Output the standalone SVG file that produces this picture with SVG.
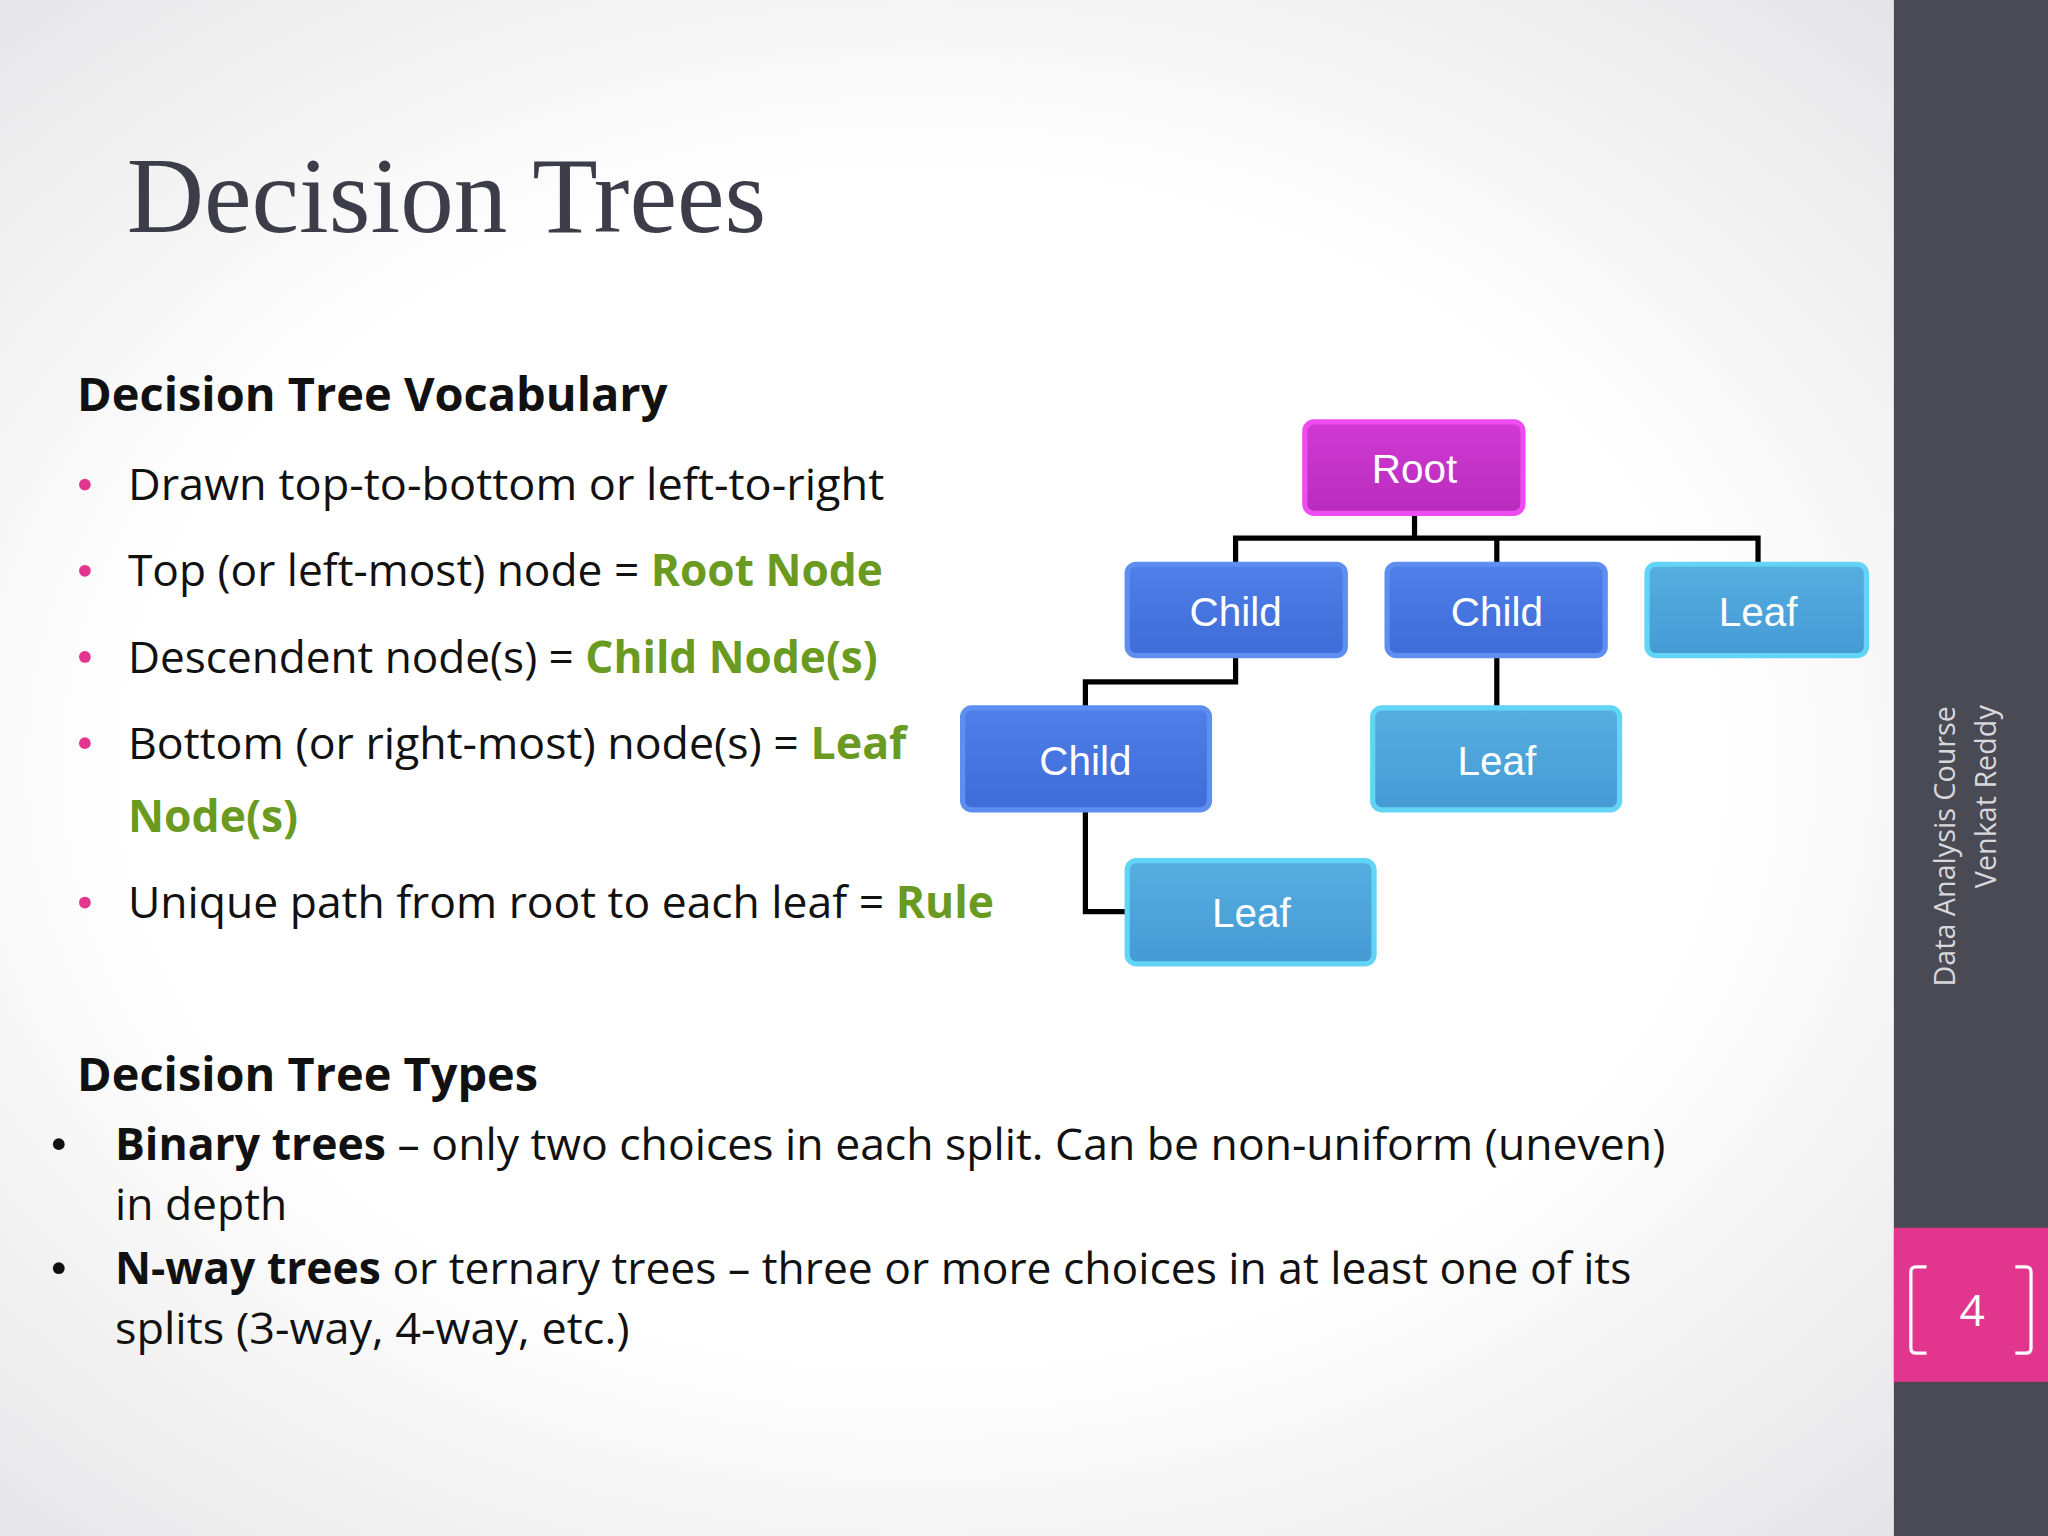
<svg xmlns="http://www.w3.org/2000/svg" width="2048" height="1536" viewBox="0 0 2048 1536">
<defs>
<radialGradient id="bg" cx="0.45" cy="0.5" r="0.7">
<stop offset="0.55" stop-color="#ffffff"/><stop offset="1" stop-color="#e4e4e6"/>
</radialGradient>
<linearGradient id="gMag" x1="0" y1="0" x2="0" y2="1"><stop offset="0" stop-color="#d13ad4"/><stop offset="1" stop-color="#b82cbc"/></linearGradient>
<linearGradient id="gChild" x1="0" y1="0" x2="0" y2="1"><stop offset="0" stop-color="#4f7fe8"/><stop offset="1" stop-color="#3f6cd8"/></linearGradient>
<linearGradient id="gLeaf" x1="0" y1="0" x2="0" y2="1"><stop offset="0" stop-color="#56aee0"/><stop offset="1" stop-color="#459ad4"/></linearGradient>
</defs>
<style>
.body{font-family:"Open Sans","Liberation Sans",sans-serif;font-size:34px;fill:#111}
.hd{font-family:"Open Sans","Liberation Sans",sans-serif;font-size:36px;font-weight:bold;fill:#111}
.g{fill:#6a9a1f;font-weight:bold}
.b{font-weight:bold}
.nt{font-family:"Liberation Sans",Arial,sans-serif;font-size:31px;fill:#fff;text-anchor:middle}
.root{fill:url(#gMag);stroke:#ee4cf0;stroke-width:4}
.child{fill:url(#gChild);stroke:#5d8ef0;stroke-width:4}
.leaf{fill:url(#gLeaf);stroke:#62d4f6;stroke-width:4}
.con{fill:none;stroke:#000;stroke-width:4}
</style>
<rect width="2048" height="1536" fill="url(#bg)"/>
<g transform="scale(1.30612)">
<rect x="1450" y="0" width="118" height="1176" fill="#4a4a55"/>
<rect x="1450" y="940" width="118" height="118" fill="#e2358d"/>
<path d="M1475 970 h-8 q-4 0 -4 4 v58 q0 4 4 4 h8 M1543 970 h8 q4 0 4 4 v58 q0 4 -4 4 h-8" fill="none" stroke="#fff" stroke-width="2.5"/>
<text x="1510" y="1015" font-family="Open Sans,Liberation Sans,sans-serif" font-size="34" fill="#fff" text-anchor="middle">4</text>
<text transform="translate(1497,648) rotate(-90)" font-family="Open Sans,Liberation Sans,sans-serif" font-size="22" fill="#d8d8dc" text-anchor="middle">Data Analysis Course</text>
<text transform="translate(1528,610) rotate(-90)" font-family="Open Sans,Liberation Sans,sans-serif" font-size="22" fill="#d8d8dc" text-anchor="middle">Venkat Reddy</text>

<text x="97" y="178" font-family="Liberation Serif,serif" font-size="82" fill="#3d3d4a">Decision Trees</text>

<text x="59" y="315" class="hd" textLength="452" lengthAdjust="spacingAndGlyphs">Decision Tree Vocabulary</text>
<g fill="#e2358d"><circle cx="65" cy="371" r="4.5"/><circle cx="65" cy="437" r="4.5"/><circle cx="65" cy="503" r="4.5"/><circle cx="65" cy="569" r="4.5"/><circle cx="65" cy="691" r="4.5"/></g>
<text x="98" y="383" class="body" textLength="579" lengthAdjust="spacingAndGlyphs">Drawn top-to-bottom or left-to-right</text>
<text x="98" y="449" class="body" textLength="578" lengthAdjust="spacingAndGlyphs">Top (or left-most) node = <tspan class="g">Root Node</tspan></text>
<text x="98" y="515" class="body" textLength="574" lengthAdjust="spacingAndGlyphs">Descendent node(s) = <tspan class="g">Child Node(s)</tspan></text>
<text x="98" y="581" class="body" textLength="596" lengthAdjust="spacingAndGlyphs">Bottom (or right-most) node(s) = <tspan class="g">Leaf</tspan></text>
<text x="98" y="637" class="body g">Node(s)</text>
<text x="98" y="703" class="body" textLength="663" lengthAdjust="spacingAndGlyphs">Unique path from root to each leaf = <tspan class="g">Rule</tspan></text>

<text x="59" y="835" class="hd" textLength="353" lengthAdjust="spacingAndGlyphs">Decision Tree Types</text>
<g fill="#111"><circle cx="45" cy="876" r="4.5"/><circle cx="45" cy="971" r="4.5"/></g>
<text x="88" y="888" class="body" textLength="1187" lengthAdjust="spacingAndGlyphs"><tspan class="b">Binary trees</tspan> – only two choices in each split. Can be non-uniform (uneven)</text>
<text x="88" y="934" class="body">in depth</text>
<text x="88" y="983" class="body" textLength="1161" lengthAdjust="spacingAndGlyphs"><tspan class="b">N-way trees</tspan> or ternary trees – three or more choices in at least one of its</text>
<text x="88" y="1029" class="body" textLength="394" lengthAdjust="spacingAndGlyphs">splits (3-way, 4-way, etc.)</text>

<g id="connectors">
<path class="con" d="M1083 393V412 M946 432V412H1346V432 M1146 412V432"/>
<path class="con" d="M946 502V522H831V542"/>
<path class="con" d="M1146 502V542"/>
<path class="con" d="M831 620V698H863"/>
</g>
<g id="root"><rect class="root" x="999" y="323" width="167" height="70" rx="7"/><text class="nt" x="1083" y="370">Root</text></g>
<g id="child1"><rect class="child" x="863" y="432" width="167" height="70" rx="7"/><text class="nt" x="946" y="479">Child</text></g>
<g id="child2"><rect class="child" x="1062" y="432" width="167" height="70" rx="7"/><text class="nt" x="1146" y="479">Child</text></g>
<g id="leaf1"><rect class="leaf" x="1261" y="432" width="168" height="70" rx="7"/><text class="nt" x="1346" y="479">Leaf</text></g>
<g id="child3"><rect class="child" x="737" y="542" width="189" height="78" rx="7"/><text class="nt" x="831" y="593">Child</text></g>
<g id="leaf2"><rect class="leaf" x="1051" y="542" width="189" height="78" rx="7"/><text class="nt" x="1146" y="593">Leaf</text></g>
<g id="leaf3"><rect class="leaf" x="863" y="659" width="189" height="79" rx="7"/><text class="nt" x="958" y="710">Leaf</text></g>
</g>
</svg>
